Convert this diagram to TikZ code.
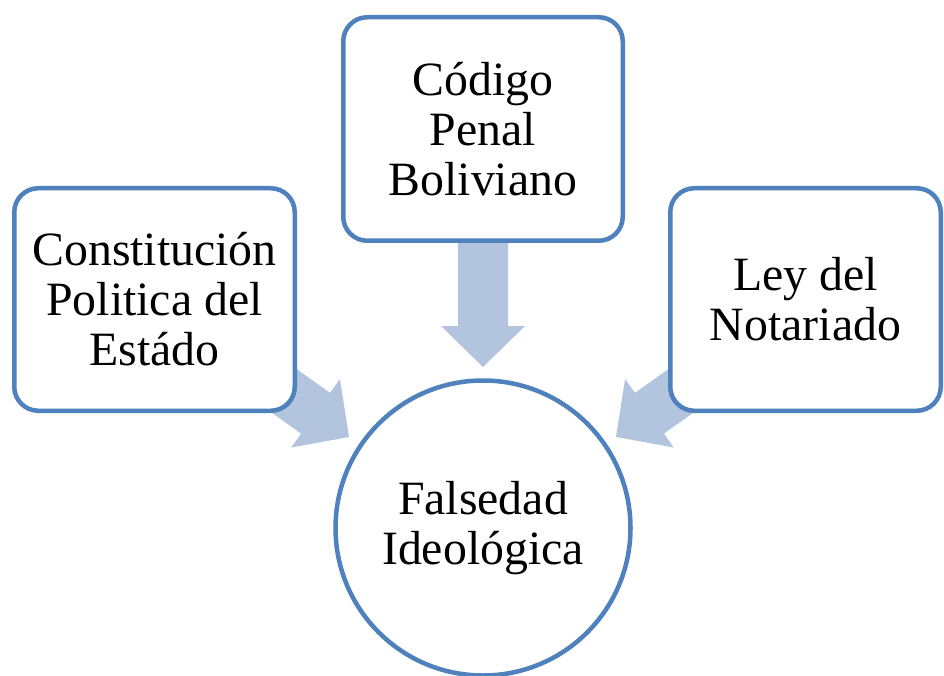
\documentclass[tikz,border=0pt]{standalone}
\usepackage{fontspec}
\setmainfont{Liberation Serif}
\usetikzlibrary{backgrounds}
\definecolor{edgeblue}{RGB}{79,129,189}
\definecolor{arrowblue}{RGB}{179,196,222}
\tikzset{
  box/.style={draw=edgeblue, line width=4.5pt, fill=white, rounded corners=24pt,
    align=center, font=\fontsize{47.8}{50}\selectfont, inner sep=0pt},
  hub/.style={draw=edgeblue, line width=4.5pt, fill=white, circle, minimum size=295pt,
    align=center, font=\fontsize{47.8}{50}\selectfont, inner sep=0pt},
  blockarrow/.style={fill=arrowblue, draw=none}
}
\newcommand{\blockarr}[2]{%
  \fill[blockarrow, shift={(#1)}, rotate=#2]
    (0,0) -- (-41,42) -- (-41,25) -- (-140,25) -- (-140,-25) -- (-41,-25) -- (-41,-42) -- cycle;}
\begin{document}
\begin{tikzpicture}[x=1pt, y=-1pt]
  \useasboundingbox (0,0) rectangle (944,676);
  \node[box, minimum width=280.5pt, minimum height=222.5pt] (left) at (154.5,299.5)
    {Constitución\\Politica del\\Estádo};
  \node[box, minimum width=279.5pt, minimum height=223.5pt] (top) at (483,129)
    {Código\\Penal\\Boliviano};
  \node[box, minimum width=270.5pt, minimum height=222.5pt] (right) at (805.5,299.5)
    {Ley del\\Notariado};
  \node[hub] (hub) at (483,528) {Falsedad\\Ideológica};
  \coordinate (tipL) at (349,437);
  \coordinate (tipT) at (483,367);
  \coordinate (tipR) at (616,437);
  \begin{scope}[on background layer]
    \blockarr{tipL}{-35.4}
    \blockarr{tipT}{-90}
    \blockarr{tipR}{-144.6}
  \end{scope}
\end{tikzpicture}
\end{document}
